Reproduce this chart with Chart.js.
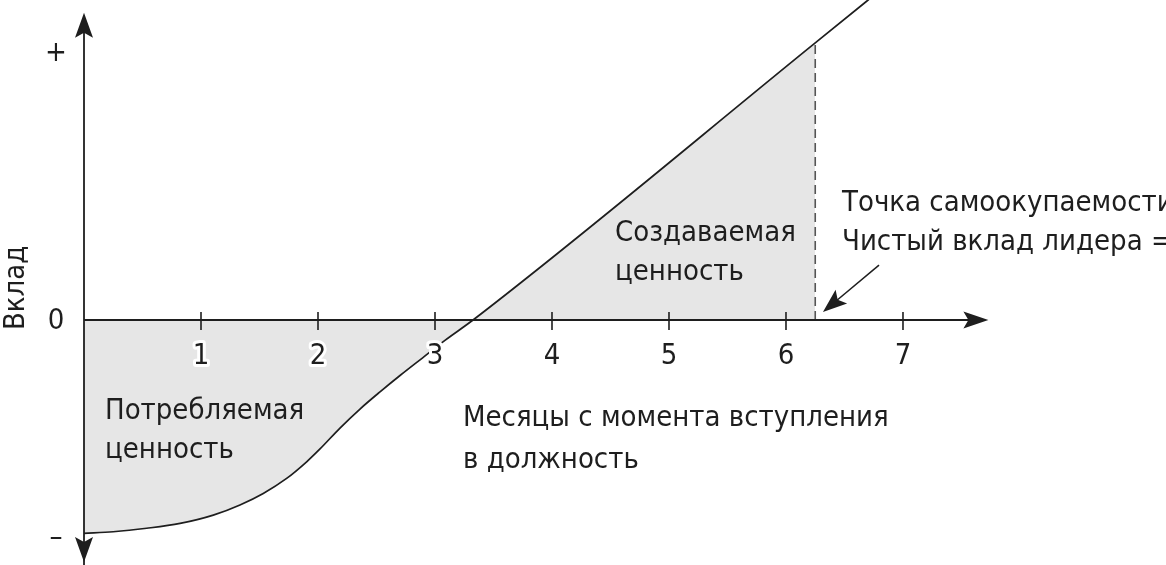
<!DOCTYPE html>
<html><head><meta charset="utf-8">
<script src="https://cdn.jsdelivr.net/npm/chart.js@4.4.1/dist/chart.umd.min.js"></script>
<style>html,body{margin:0;padding:0;background:#fff;overflow:hidden}#wrap{width:1166px;height:565px;position:relative}</style>
</head><body><div id="wrap"><canvas id="c" width="1166" height="565"></canvas></div>
<script>
// ---- data ----
const months = [0, 0.25, 0.536, 0.821, 1.105, 1.333, 1.532, 1.732, 1.903, 2.017, 2.188, 2.359, 2.53, 2.701, 2.897, 3.085, 3.325, 6.25, 6.9];
const contribution = [-0.796, -0.79, -0.777, -0.759, -0.728, -0.69, -0.647, -0.591, -0.529, -0.481, -0.403, -0.332, -0.268, -0.207, -0.14, -0.076, 0, 1.034, 1.264];
const breakEvenMonth = 6.25;
const xTickValues = [1, 2, 3, 4, 5, 6, 7];
const xTickLabels = ['1', '2', '3', '4', '5', '6', '7'];
const yTickValues = [1, 0, -0.81];
const yTickLabels = ['+', '0', '–'];
const yAxisTitle = 'Вклад';
const xAxisTitle = ['Месяцы с момента вступления', 'в должность'];
const consumedLabel = ['Потребляемая', 'ценность'];
const createdLabel = ['Создаваемая', 'ценность'];
const breakEvenLabel = ['Точка самоокупаемости', 'Чистый вклад лидера = 0'];

// ---- derived ----
const curve = months.map((m, i) => ({x: m, y: contribution[i]}));
const filled = curve.filter(p => p.x <= breakEvenMonth);
const breakEvenValue = contribution[months.indexOf(breakEvenMonth)];

const FONT = '"DejaVu Sans Condensed", "Roboto", sans-serif';
const INK = '#1e1e1e';

function arrowHead(ctx, tx, ty, angle, len, half) {
  ctx.save();
  ctx.translate(tx, ty);
  ctx.rotate(angle);
  ctx.beginPath();
  ctx.moveTo(0, 0);
  ctx.lineTo(-len, -half);
  ctx.lineTo(-len * 0.8, 0);
  ctx.lineTo(-len, half);
  ctx.closePath();
  ctx.fill();
  ctx.restore();
}

const decor = {
  id: 'decor',
  afterDatasetsDraw(chart) {
    const ctx = chart.ctx;
    const xs = chart.scales.x, ys = chart.scales.y;
    const X = v => xs.getPixelForValue(v), Y = v => ys.getPixelForValue(v);
    const x0 = X(0), y0 = Y(0);
    ctx.save();
    ctx.strokeStyle = INK; ctx.fillStyle = INK; ctx.lineWidth = 1.8;
    // x axis
    const xEnd = X(7.73);
    ctx.beginPath(); ctx.moveTo(x0, y0); ctx.lineTo(xEnd - 10, y0); ctx.stroke();
    arrowHead(ctx, xEnd, y0, 0, 25, 8.5);
    // y axis
    const yTop = Y(1.146), yBot = Y(-0.903);
    ctx.beginPath(); ctx.moveTo(x0, yBot + 10); ctx.lineTo(x0, yTop + 10); ctx.stroke();
    arrowHead(ctx, x0, yTop, -Math.PI / 2, 25, 9);
    arrowHead(ctx, x0, yBot, Math.PI / 2, 25, 9);
    // ticks
    ctx.lineWidth = 1.6;
    xTickValues.forEach(v => {
      ctx.beginPath(); ctx.moveTo(X(v), y0 - 8); ctx.lineTo(X(v), y0 + 10); ctx.stroke();
    });
    // tick labels
    ctx.font = '29px ' + FONT;
    ctx.textAlign = 'center'; ctx.textBaseline = 'alphabetic';
    ctx.lineJoin = 'round';
    xTickValues.forEach((v, i) => {
      ctx.strokeStyle = '#fff'; ctx.lineWidth = 6;
      ctx.strokeText(xTickLabels[i], X(v), y0 + 44);
      ctx.fillText(xTickLabels[i], X(v), y0 + 44);
    });
    ctx.textBaseline = 'middle';
    yTickValues.forEach((v, i) => {
      ctx.fillText(yTickLabels[i], x0 - 28, Y(v) + 1);
    });
    // axis title (rotated)
    ctx.save();
    ctx.translate(16, Y(0.12));
    ctx.rotate(-Math.PI / 2);
    ctx.textAlign = 'center'; ctx.textBaseline = 'middle';
    ctx.fillText(yAxisTitle, 0, 0);
    ctx.restore();
    // text blocks
    ctx.textAlign = 'left'; ctx.textBaseline = 'alphabetic';
    const block = (lines, x, y, gap) => lines.forEach((t, i) => ctx.fillText(t, x, y + i * gap));
    block(createdLabel, 615, 241, 39);
    block(consumedLabel, 105, 419, 39);
    block(xAxisTitle, 463, 426, 42);
    block(breakEvenLabel, 842, 211, 39);
    // annotation arrow
    ctx.strokeStyle = INK; ctx.lineWidth = 1.5;
    const ax1 = X(6.795), ay1 = Y(0.205), ax2 = X(6.316), ay2 = Y(0.03);
    const ang = Math.atan2(ay2 - ay1, ax2 - ax1);
    ctx.beginPath(); ctx.moveTo(ax1, ay1); ctx.lineTo(ax2 - 14 * Math.cos(ang), ay2 - 14 * Math.sin(ang)); ctx.stroke();
    arrowHead(ctx, ax2, ay2, ang, 24, 9);
    ctx.restore();
  }
};

new Chart(document.getElementById('c'), {
  type: 'scatter',
  data: {
    datasets: [
      { order: 0, data: curve, showLine: true, fill: false, borderColor: INK, borderWidth: 1.7, pointRadius: 0, cubicInterpolationMode: 'monotone' },
      { order: 1, data: [{x: breakEvenMonth, y: 0}, {x: breakEvenMonth, y: breakEvenValue}], showLine: true, borderColor: '#555', borderWidth: 1.6, borderDash: [9, 5], pointRadius: 0 },
      { order: 2, data: filled, showLine: true, fill: 'origin', backgroundColor: '#e6e6e6', borderWidth: 0, borderColor: 'rgba(0,0,0,0)', pointRadius: 0, cubicInterpolationMode: 'monotone' }
    ]
  },
  options: {
    responsive: false, animation: false, devicePixelRatio: 1,
    layout: { padding: 0 },
    plugins: { legend: { display: false }, tooltip: { enabled: false } },
    scales: {
      x: { type: 'linear', min: -0.718, max: 9.248, display: false },
      y: { type: 'linear', min: -0.914, max: 1.194, display: false }
    }
  },
  plugins: [decor]
});
</script></body></html>
